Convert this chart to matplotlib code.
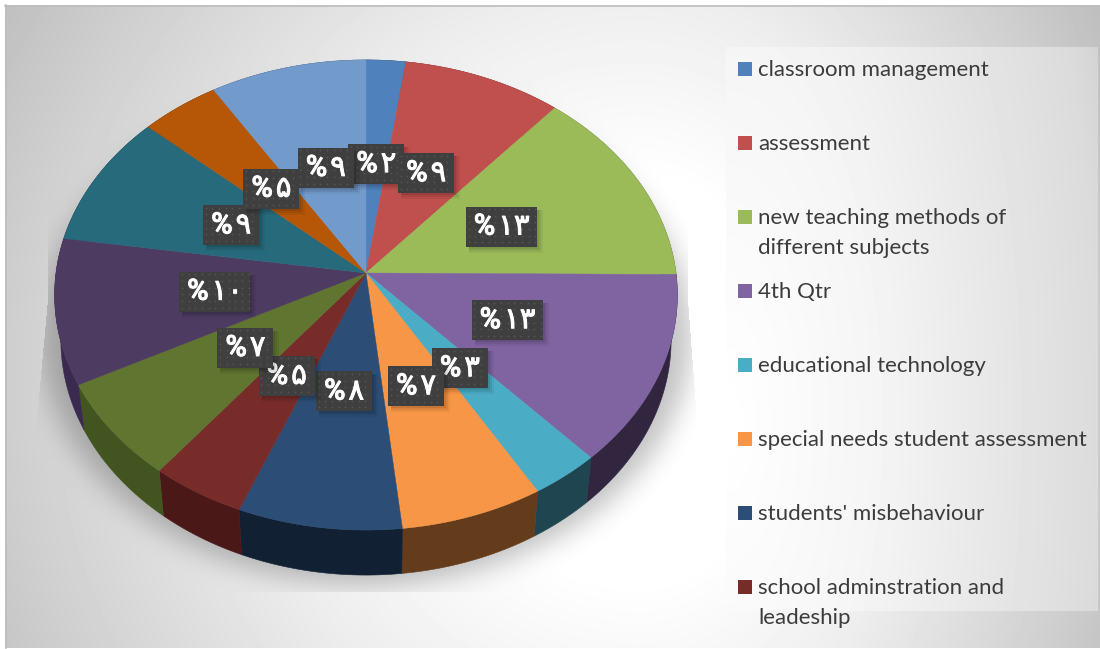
"""
3D style pie chart with dark data labels and a legend panel on the right
"""
import numpy as np
import matplotlib
matplotlib.use('Agg')
import matplotlib.pyplot as plt
import matplotlib.patheffects as pe
from matplotlib.patches import Polygon, Rectangle

# wedge sizes, first wedge starts at twelve o'clock
values = [2.25, 9.05, 13.8, 13.1, 3.3, 6.8, 7.8, 4.5, 6.8, 10.0, 9.2, 4.5, 8.9]
labels = ['%۲', '%۹', '%۱۳', '%۱۳', '%۳', '%۷', '%۸', '%۵', '%۷', '%۱۰', '%۹', '%۵', '%۹']
colors = ['#4f81bd', '#c0504d', '#9bbb59', '#8064a2', '#4bacc6', '#f79646', '#2c4d75',
          '#772c2a', '#5f7530', '#4d3b62', '#276a7c', '#b65708', '#729aca']
side_colors = ['#2b466a', '#6b2b2a', '#566832', '#312540', '#1f4650', '#643b1b', '#112033',
               '#4a1816', '#425420', '#3a2a50', '#163c46', '#653004', '#3f5672']
legend_names = ['classroom management', 'assessment', 'new teaching methods of\ndifferent subjects',
                '4th Qtr', 'educational technology', 'special needs student assessment',
                "students' misbehaviour", 'school adminstration and\nleadeship']

W, H = 1100, 649

# pie geometry in picture pixels
CX, CY = 366, 273
RX, RY = 310, 233
PERSP = 0.0936
DEPTH = 45
LABEL_R = 0.49


def project(theta, r=1.0, bottom=False):
    # perspective view of the pie disc, theta clockwise from the top
    u = r * np.sin(theta)
    v = -r * np.cos(theta)
    d = 1 - PERSP * v
    x = RX * u / d
    y = RY * v / d
    if bottom:
        return CX + 0.98 * x, CY + y + DEPTH
    return CX + x, CY + y


def background(ax):
    xx, yy = np.meshgrid(np.arange(W) + 0.5, np.arange(H) + 0.5)

    # radial grey backdrop
    dx = xx - 640
    dx = np.where(dx > 0, dx * 1.4, dx)
    d = np.hypot(dx, yy - 380)
    g = np.interp(d, [0, 200, 390, 630, 737, 900], [1, 1, 0.93, 0.81, 0.75, 0.72])

    # soft shadow below the pie
    mask = (((xx - CX) / 325) ** 2 + ((yy - 335) / 250) ** 2 < 1).astype(float)
    fx = np.fft.fftfreq(W)
    fy = np.fft.fftfreq(H)
    sigma = 13
    kernel = np.exp(-2 * (np.pi * sigma) ** 2 * (fx[None, :] ** 2 + fy[:, None] ** 2))
    shadow = np.real(np.fft.ifft2(np.fft.fft2(mask) * kernel))
    left_edge = np.interp(yy, [300, 440], [48, 35])
    right_edge = np.interp(yy, [300, 420], [688, 697])
    inside = (yy < 592) & (xx > left_edge) & (xx < right_edge)
    g = g * (1 - 0.24 * shadow * inside)

    # legend panel
    panel = (xx >= 726) & (xx < 1098) & (yy >= 47) & (yy < 611)
    d2 = np.hypot(xx - 726, 0.4 * (yy - 420))
    g2 = np.interp(d2, [0, 150, 372, 400], [1, 0.96, 0.86, 0.83])
    g = np.where(panel, g2, g)

    ax.imshow(g, cmap='gray', vmin=0, vmax=1, extent=(0, W, H, 0), aspect='auto',
              interpolation='bilinear', zorder=0)

    # white margin around the grey frame
    ax.add_patch(Rectangle((0, 0), W, 5, fc='white', ec='none', zorder=1))
    ax.add_patch(Rectangle((0, 0), 5, H, fc='white', ec='none', zorder=1))
    ax.add_patch(Rectangle((0, 648), W, 1, fc='white', ec='none', zorder=1))
    ax.plot([5.5, 5.5], [5, 648], color='#bdbdbd', lw=1.2, zorder=1)
    ax.plot([5, W], [5.5, 5.5], color='#bdbdbd', lw=1.2, zorder=1)


def draw_pie(ax):
    edges = np.cumsum([0] + values) / sum(values) * 2 * np.pi

    # side wall first, top face goes over it
    for i, c in enumerate(side_colors):
        t = np.linspace(edges[i], edges[i + 1], 80)
        x1, y1 = project(t)
        x2, y2 = project(t, bottom=True)
        pts = np.column_stack([np.r_[x1, x2[::-1]], np.r_[y1, y2[::-1]]])
        ax.add_patch(Polygon(pts, closed=True, fc=c, ec=c, lw=0.4, zorder=2))

    for i, c in enumerate(colors):
        t = np.linspace(edges[i], edges[i + 1], 80)
        x1, y1 = project(t)
        pts = np.column_stack([np.r_[CX, x1], np.r_[CY, y1]])
        ax.add_patch(Polygon(pts, closed=True, fc=c, ec=c, lw=0.3, zorder=3))

    # data labels, later ones sit on top of earlier ones
    mids = (edges[:-1] + edges[1:]) / 2
    for i, (txt, m) in enumerate(zip(labels, mids)):
        x, y = project(m, LABEL_R)
        bw = 71 if len(txt) > 2 else 56
        bh = 40
        z = 10 + i
        for k, a in zip([6, 4, 2], [0.05, 0.07, 0.09]):
            ax.add_patch(Rectangle((x - bw / 2 + 3, y - bh / 2 + 3), bw + k - 3, bh + k - 3,
                                   fc='black', ec='none', alpha=a, zorder=z))
        ax.add_patch(Rectangle((x - bw / 2, y - bh / 2), bw, bh, fc='#3f3f3f', ec='none', zorder=z + 0.1))
        gx, gy = np.meshgrid(np.arange(x - bw / 2 + 2.5, x + bw / 2 - 1, 6.67),
                             np.arange(y - bh / 2 + 2.5, y + bh / 2 - 1, 6.67))
        ax.plot(gx.ravel(), gy.ravel(), ls='none', marker='s', ms=1.1, mew=0, color='#565656', zorder=z + 0.2)
        t = ax.text(x, y, txt.replace('%', '%\u200a'), color='white', fontsize=21, fontweight='medium',
                    ha='center', va='center', family=['Roboto', 'DejaVu Sans'], zorder=z + 0.3)
        t.set_path_effects([pe.withStroke(linewidth=0.7, foreground='white')])


def draw_legend(ax):
    row_y = [69, 143, 217, 291, 365, 439, 513, 587]
    for name, c, y in zip(legend_names, colors, row_y):
        ax.add_patch(Rectangle((738, y - 7), 14, 14, fc=c, ec='none', zorder=4))
        for j, line in enumerate(name.split('\n')):
            ax.text(758, y + 1 + 30 * j, line, color='#3c3c3c', fontsize=16, ha='left', va='center',
                    family='Lato', zorder=4)


fig = plt.figure(figsize=(W / 100, H / 100), dpi=100)
ax = fig.add_axes([0, 0, 1, 1])
background(ax)
draw_pie(ax)
draw_legend(ax)
ax.set_xlim(0, W)
ax.set_ylim(H, 0)
ax.axis('off')
fig.savefig('out.png', dpi=100)
